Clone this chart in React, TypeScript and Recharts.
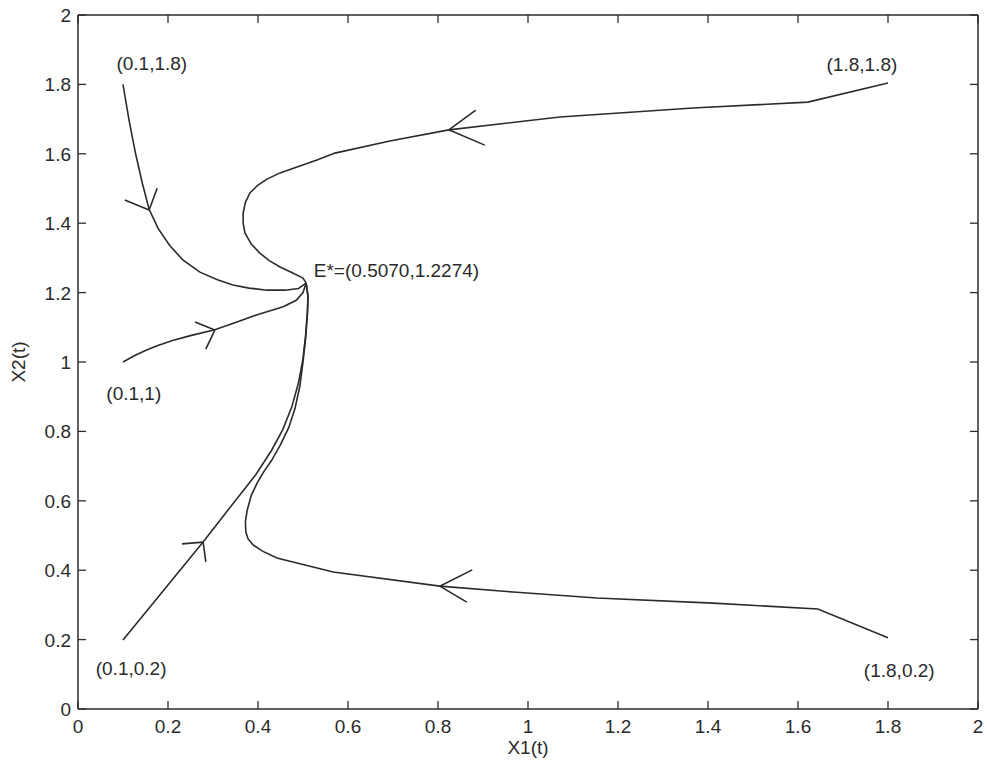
import React from 'react';
import { ComposedChart, Line, XAxis, YAxis, ReferenceLine, ReferenceDot } from 'recharts';

type P = { x: number; y: number };

const xTicks = [0, 0.2, 0.4, 0.6, 0.8, 1, 1.2, 1.4, 1.6, 1.8, 2];
const yTicks = [0, 0.2, 0.4, 0.6, 0.8, 1, 1.2, 1.4, 1.6, 1.8, 2];
const X_MIN = 0;
const X_MAX = 2;
const Y_MIN = 0;
const Y_MAX = 2;

const trajTopLeft: P[] = [
  { x: 0.1, y: 1.8 }, { x: 0.113, y: 1.7 }, { x: 0.128, y: 1.6 }, { x: 0.143, y: 1.515 },
  { x: 0.158, y: 1.44 }, { x: 0.178, y: 1.385 }, { x: 0.203, y: 1.337 }, { x: 0.233, y: 1.294 },
  { x: 0.271, y: 1.259 }, { x: 0.31, y: 1.237 }, { x: 0.344, y: 1.222 }, { x: 0.38, y: 1.213 },
  { x: 0.42, y: 1.207 }, { x: 0.46, y: 1.207 }, { x: 0.49, y: 1.212 }, { x: 0.507, y: 1.2274 },
];

const trajMidLeft: P[] = [
  { x: 0.1, y: 1.0 }, { x: 0.125, y: 1.018 }, { x: 0.15, y: 1.033 }, { x: 0.176, y: 1.047 },
  { x: 0.21, y: 1.062 }, { x: 0.25, y: 1.076 }, { x: 0.304, y: 1.093 }, { x: 0.35, y: 1.114 },
  { x: 0.4, y: 1.137 }, { x: 0.456, y: 1.159 }, { x: 0.485, y: 1.178 }, { x: 0.5, y: 1.2 },
  { x: 0.507, y: 1.2274 },
];

const trajBottomLeft: P[] = [
  { x: 0.1, y: 0.199 }, { x: 0.278, y: 0.481 }, { x: 0.333, y: 0.573 }, { x: 0.395, y: 0.675 },
  { x: 0.43, y: 0.745 }, { x: 0.455, y: 0.805 }, { x: 0.475, y: 0.87 }, { x: 0.49, y: 0.94 },
  { x: 0.5, y: 1.01 }, { x: 0.506, y: 1.08 }, { x: 0.51, y: 1.15 }, { x: 0.511, y: 1.19 },
  { x: 0.507, y: 1.2274 },
];

const trajBottomRight: P[] = [
  { x: 1.8, y: 0.205 }, { x: 1.644, y: 0.288 }, { x: 1.411, y: 0.305 }, { x: 1.153, y: 0.32 },
  { x: 0.967, y: 0.337 }, { x: 0.804, y: 0.354 }, { x: 0.567, y: 0.395 }, { x: 0.442, y: 0.435 },
  { x: 0.41, y: 0.455 }, { x: 0.389, y: 0.473 }, { x: 0.378, y: 0.49 }, { x: 0.373, y: 0.51 },
  { x: 0.372, y: 0.54 }, { x: 0.376, y: 0.573 }, { x: 0.385, y: 0.615 }, { x: 0.398, y: 0.651 },
  { x: 0.413, y: 0.684 }, { x: 0.43, y: 0.716 }, { x: 0.45, y: 0.762 }, { x: 0.468, y: 0.81 },
  { x: 0.482, y: 0.865 }, { x: 0.493, y: 0.93 }, { x: 0.5, y: 1.0 }, { x: 0.506, y: 1.07 },
  { x: 0.51, y: 1.14 }, { x: 0.511, y: 1.19 }, { x: 0.507, y: 1.2274 },
];

const trajTopRight: P[] = [
  { x: 1.8, y: 1.804 }, { x: 1.622, y: 1.749 }, { x: 1.367, y: 1.732 }, { x: 1.071, y: 1.706 },
  { x: 0.824, y: 1.669 }, { x: 0.693, y: 1.637 }, { x: 0.571, y: 1.602 }, { x: 0.531, y: 1.582 },
  { x: 0.449, y: 1.545 }, { x: 0.42, y: 1.527 }, { x: 0.4, y: 1.51 }, { x: 0.382, y: 1.487 },
  { x: 0.372, y: 1.46 }, { x: 0.367, y: 1.429 }, { x: 0.367, y: 1.4 }, { x: 0.371, y: 1.372 },
  { x: 0.385, y: 1.34 }, { x: 0.404, y: 1.314 }, { x: 0.425, y: 1.292 }, { x: 0.449, y: 1.274 },
  { x: 0.475, y: 1.258 }, { x: 0.5, y: 1.242 }, { x: 0.507, y: 1.2274 },
];

// arrow heads: tip and two arm ends
const arrows: P[][] = [
  [{ x: 0.824, y: 1.669 }, { x: 0.884, y: 1.726 }, { x: 0.904, y: 1.625 }],
  [{ x: 0.804, y: 0.354 }, { x: 0.876, y: 0.401 }, { x: 0.864, y: 0.308 }],
  [{ x: 0.158, y: 1.438 }, { x: 0.104, y: 1.467 }, { x: 0.176, y: 1.501 }],
  [{ x: 0.304, y: 1.092 }, { x: 0.26, y: 1.115 }, { x: 0.284, y: 1.037 }],
  [{ x: 0.278, y: 0.481 }, { x: 0.231, y: 0.476 }, { x: 0.284, y: 0.424 }],
];

const annotations = [
  { x: 0.164, y: 1.862, text: '(0.1,1.8)', anchor: 'middle' },
  { x: 1.742, y: 1.859, text: '(1.8,1.8)', anchor: 'middle' },
  { x: 0.524, y: 1.265, text: 'E*=(0.5070,1.2274)', anchor: 'start' },
  { x: 0.124, y: 0.911, text: '(0.1,1)', anchor: 'middle' },
  { x: 0.118, y: 0.118, text: '(0.1,0.2)', anchor: 'middle' },
  { x: 1.825, y: 0.112, text: '(1.8,0.2)', anchor: 'middle' },
];

const FONT = '"Liberation Sans", Arial, Helvetica, sans-serif';
const INK = '#2b2b2b';
const FS = 19;

const CHART_W = 987;
const CHART_H = 763;
const MARGIN = { top: 15, right: 9, bottom: 0, left: 0 };
const Y_AXIS_W = 78;
const X_AXIS_H = 54;
const TICK_PX = 8;
const PLOT_W = CHART_W - MARGIN.left - MARGIN.right - Y_AXIS_W;
const PLOT_H = CHART_H - MARGIN.top - MARGIN.bottom - X_AXIS_H;
// inward tick length expressed in data units
const TLX = (TICK_PX / PLOT_W) * (X_MAX - X_MIN);
const TLY = (TICK_PX / PLOT_H) * (Y_MAX - Y_MIN);

const fmt = (v: number) => String(v);

const BottomTick = (props: any) => {
  const { x, y, payload } = props;
  return (
    <text x={x} y={y + 24} textAnchor="middle" fontSize={FS} fontFamily={FONT} fill={INK}>
      {fmt(payload.value)}
    </text>
  );
};

const LeftTick = (props: any) => {
  const { x, y, payload } = props;
  return (
    <text x={x - 7} y={y + 7} textAnchor="end" fontSize={FS} fontFamily={FONT} fill={INK}>
      {fmt(payload.value)}
    </text>
  );
};

const XLabel = (props: any) => {
  const vb = props.viewBox || { x: 78, y: 709, width: 900, height: 54 };
  return (
    <text x={vb.x + vb.width / 2} y={vb.y + 45} textAnchor="middle" fontSize={FS} fontFamily={FONT} fill={INK}>
      X1(t)
    </text>
  );
};

const YLabel = (props: any) => {
  const vb = props.viewBox || { x: 0, y: 15, width: 78, height: 694 };
  const cx = vb.x + 25;
  const cy = vb.y + vb.height / 2;
  return (
    <text x={cx} y={cy} transform={`rotate(-90, ${cx}, ${cy})`} textAnchor="middle" fontSize={FS} fontFamily={FONT} fill={INK}>
      X2(t)
    </text>
  );
};

const trajectories = [trajTopLeft, trajMidLeft, trajBottomLeft, trajBottomRight, trajTopRight];

const axisLineStyle = { stroke: INK, strokeWidth: 1.5 };

// tick mark segments on all four sides (inward)
const tickSegments: P[][] = [
  ...xTicks.map((v) => [{ x: v, y: Y_MIN }, { x: v, y: Y_MIN + TLY }]),
  ...xTicks.map((v) => [{ x: v, y: Y_MAX }, { x: v, y: Y_MAX - TLY }]),
  ...yTicks.map((v) => [{ x: X_MIN, y: v }, { x: X_MIN + TLX, y: v }]),
  ...yTicks.map((v) => [{ x: X_MAX, y: v }, { x: X_MAX - TLX, y: v }]),
];

export default function App() {
  return (
    <div style={{ position: 'absolute', left: 0, top: 0, background: '#fff' }}>
      <ComposedChart width={CHART_W} height={CHART_H} margin={MARGIN}>
        <XAxis
          xAxisId={0}
          dataKey="x"
          type="number"
          domain={[X_MIN, X_MAX]}
          ticks={xTicks}
          height={X_AXIS_H}
          tickSize={0}
          tickMargin={0}
          tick={<BottomTick />}
          axisLine={axisLineStyle}
          tickLine={false}
          interval={0}
          label={<XLabel />}
          allowDataOverflow
        />
        <YAxis
          yAxisId={0}
          type="number"
          domain={[Y_MIN, Y_MAX]}
          ticks={yTicks}
          width={Y_AXIS_W}
          tickSize={0}
          tickMargin={0}
          tick={<LeftTick />}
          axisLine={axisLineStyle}
          tickLine={false}
          interval={0}
          label={<YLabel />}
          allowDataOverflow
        />
        <ReferenceLine xAxisId={0} yAxisId={0} y={Y_MAX} stroke={INK} strokeWidth={1.5} ifOverflow="visible" />
        <ReferenceLine xAxisId={0} yAxisId={0} x={X_MAX} stroke={INK} strokeWidth={1.5} ifOverflow="visible" />
        {tickSegments.map((s, i) => (
          <ReferenceLine
            key={`tk${i}`}
            xAxisId={0}
            yAxisId={0}
            segment={[s[0], s[1]]}
            stroke={INK}
            strokeWidth={1.3}
            ifOverflow="visible"
          />
        ))}
        {trajectories.map((d, i) => (
          <Line
            key={`t${i}`}
            data={d}
            dataKey="y"
            xAxisId={0}
            yAxisId={0}
            type="linear"
            stroke={INK}
            strokeWidth={1.6}
            dot={false}
            activeDot={false}
            isAnimationActive={false}
          />
        ))}
        {arrows.map((a, i) => (
          <ReferenceLine
            key={`a${i}a`}
            xAxisId={0}
            yAxisId={0}
            segment={[a[0], a[1]]}
            stroke={INK}
            strokeWidth={1.6}
          />
        ))}
        {arrows.map((a, i) => (
          <ReferenceLine
            key={`a${i}b`}
            xAxisId={0}
            yAxisId={0}
            segment={[a[0], a[2]]}
            stroke={INK}
            strokeWidth={1.6}
          />
        ))}
        {annotations.map((n, i) => (
          <ReferenceDot
            key={`n${i}`}
            xAxisId={0}
            yAxisId={0}
            x={n.x}
            y={n.y}
            r={0}
            stroke="none"
            fill="none"
            shape={(p: any) => (
              <text
                x={p.cx}
                y={p.cy + 7}
                textAnchor={n.anchor as any}
                fontSize={FS}
                fontFamily={FONT}
                fill={INK}
              >
                {n.text}
              </text>
            )}
          />
        ))}
      </ComposedChart>
    </div>
  );
}
